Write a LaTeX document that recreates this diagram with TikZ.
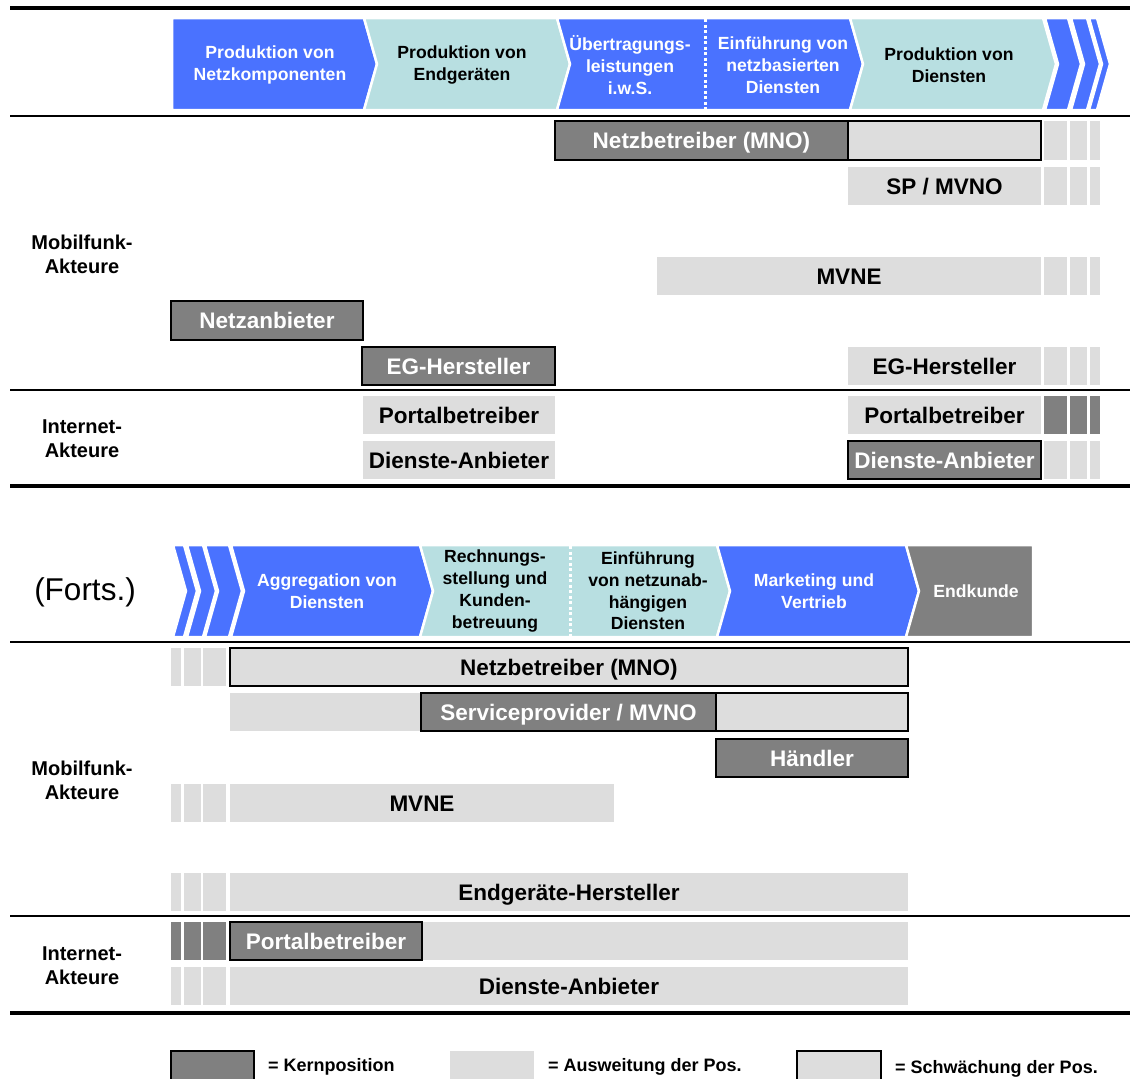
\documentclass[tikz,border=0pt]{standalone}
\usepackage{fontspec}
\setmainfont{Liberation Sans}
\definecolor{stageblue}{RGB}{74,114,255}
\definecolor{stageteal}{RGB}{184,223,225}
\definecolor{kern}{RGB}{128,128,128}
\definecolor{ausw}{RGB}{221,221,221}

% box given by its corners: style, x1, y1, x2, y2, name, text
\newcommand\cellbox[7]{%
  \node[#1, minimum width={(#4)-(#2)}, minimum height={(#5)-(#3)}] (#6)
    at ({((#2)+(#4))/2},{((#3)+(#5))/2}) {#7};}
% chevron with notched left side: fill, left x, right x, top y, bottom y
\newcommand\chevron[5]{%
  \filldraw[fill=#1, draw=white, line width=2.5, line join=miter]
    (#2,#4) -- (#3,#4) -- ({#3+13},{(#4+#5)/2}) -- (#3,#5) -- (#2,#5)
    -- ({#2+13},{(#4+#5)/2}) -- cycle;}
% three narrow blocks at the right edge of the upper table
\newcommand\barsR[3]{%
  \fill[#1] (1044,#2) rectangle (1067,#3);
  \fill[#1] (1070,#2) rectangle (1087,#3);
  \fill[#1] (1090,#2) rectangle (1100,#3);}
% three narrow blocks at the left edge of the lower table
\newcommand\barsL[3]{%
  \fill[#1] (171,#2) rectangle (181,#3);
  \fill[#1] (184,#2) rectangle (201,#3);
  \fill[#1] (203,#2) rectangle (226,#3);}

\begin{document}
\begin{tikzpicture}[x=1pt,y=-1pt,
  cell/.style={inner sep=0pt, outer sep=0pt, text height=16.2pt, text depth=0pt,
    font=\bfseries\fontsize{22.5}{26}\selectfont},
  core/.style={cell, fill=kern, draw=black, line width=1.8, text=white},
  ext/.style={cell, fill=ausw, text=black},
  weak/.style={cell, fill=ausw, draw=black, line width=1.8, text=black},
  htext/.style={align=center, inner sep=0pt, font=\bfseries\fontsize{17.6}{21.8}\selectfont},
  rowlabel/.style={align=center, inner sep=0pt, font=\bfseries\fontsize{20}{24}\selectfont},
  legtext/.style={anchor=west, inner sep=0pt, font=\bfseries\fontsize{18}{20}\selectfont},
  rule/.style={black, line cap=butt}]
\useasboundingbox (0,0) rectangle (1130,1079);
\clip (0,0) rectangle (1130,1079);

% ---------------- upper table: value chain header ----------------
\draw[rule, line width=3.5] (10,8) -- (1130,8);
\filldraw[fill=stageblue, draw=white, line width=2.5, line join=miter]
  (172,18) -- (364,18) -- (377,64) -- (364,110) -- (172,110) -- cycle;
\chevron{stageteal}{364}{557}{18}{110}
\chevron{stageblue}{557}{850}{18}{110}
\chevron{stageteal}{850}{1043}{18}{110}
\chevron{stageblue}{1045}{1068}{18}{110}
\chevron{stageblue}{1071}{1087}{18}{110}
\chevron{stageblue}{1089}{1097}{18}{110}
\draw[white, line width=3, dash pattern=on 3pt off 2.5pt] (705,19) -- (705,109);

\node[htext, text=white] (u1) at (270,65) {Produktion von\\Netzkomponenten};
\node[htext] (u2) at (462,65) {Produktion von\\Endgeräten};
\node[htext, text=white] (u3) at (630,65) {Übertragungs-\\leistungen\\i.w.S.};
\node[htext, text=white] (u4) at (783,65) {Einführung von\\netzbasierten\\Diensten};
\node[htext] (u5) at (949,65) {Produktion von\\Diensten};

\draw[rule, line width=2.5] (10,116) -- (1130,116);

% ---------------- upper table: actors ----------------
\node[rowlabel] (lblA) at (82,254) {Mobilfunk-\\Akteure};
\node[rowlabel] (lblB) at (82,439) {Internet-\\Akteure};

\cellbox{core}{555}{121}{848}{160}{mnoA}{Netzbetreiber (MNO)}
\cellbox{weak}{848}{121}{1041}{160}{mnoB}{}
\barsR{ausw}{121}{160}

\cellbox{ext}{848}{167}{1041}{205}{spA}{SP / MVNO}
\barsR{ausw}{167}{205}

\cellbox{ext}{657}{257}{1041}{295}{mvneA}{MVNE}
\barsR{ausw}{257}{295}

\cellbox{core}{171}{301}{363}{340}{netzA}{Netzanbieter}

\cellbox{core}{362}{347}{555}{385}{egA}{EG-Hersteller}
\cellbox{ext}{848}{347}{1041}{385}{egB}{EG-Hersteller}
\barsR{ausw}{347}{385}

\draw[rule, line width=2] (10,390) -- (1130,390);

\cellbox{ext}{363}{396}{555}{434}{portA}{Portalbetreiber}
\cellbox{ext}{848}{396}{1041}{434}{portB}{Portalbetreiber}
\barsR{kern}{396}{434}

\cellbox{ext}{363}{441}{555}{479}{dienA}{Dienste-Anbieter}
\cellbox{core}{848}{441}{1041}{479}{dienB}{Dienste-Anbieter}
\barsR{ausw}{441}{479}

\draw[rule, line width=3.5] (10,486) -- (1130,486);

% ---------------- lower table: value chain header ----------------
\node[inner sep=0pt, font=\fontsize{31.5}{36}\selectfont] (forts) at (85,592) {(Forts.)};

\chevron{stageblue}{173}{184}{545}{637}
\chevron{stageblue}{187}{203}{545}{637}
\chevron{stageblue}{205}{229}{545}{637}
\chevron{stageblue}{231}{420}{545}{637}
\chevron{stageteal}{420}{717}{545}{637}
\chevron{stageblue}{717}{906}{545}{637}
\filldraw[fill=kern, draw=white, line width=2.5, line join=miter]
  (906,545) -- (1033,545) -- (1033,637) -- (906,637) -- (919,591) -- cycle;
\draw[white, line width=3, dash pattern=on 3pt off 2.5pt] (570,546) -- (570,636);

\node[htext, text=white] (l1) at (327,591) {Aggregation von\\Diensten};
\node[htext] (l2) at (495,591) {Rechnungs-\\stellung und\\Kunden-\\betreuung};
\node[htext] (l3) at (648,591) {Einführung\\von netzunab-\\hängigen\\Diensten};
\node[htext, text=white] (l4) at (814,591) {Marketing und\\Vertrieb};
\node[htext, text=white] (l5) at (976,591) {Endkunde};

\draw[rule, line width=2.5] (10,642) -- (1130,642);

% ---------------- lower table: actors ----------------
\node[rowlabel] (lblC) at (82,780) {Mobilfunk-\\Akteure};
\node[rowlabel] (lblD) at (82,966) {Internet-\\Akteure};

\barsL{ausw}{648}{686}
\cellbox{weak}{230}{648}{908}{686}{mnoC}{Netzbetreiber (MNO)}

\cellbox{ext}{230}{693}{421}{731}{spC}{}
\cellbox{core}{421}{693}{716}{731}{spD}{Serviceprovider / MVNO}
\cellbox{weak}{716}{693}{908}{731}{spE}{}

\cellbox{core}{716}{739}{908}{777}{hdl}{Händler}

\barsL{ausw}{784}{822}
\cellbox{ext}{230}{784}{614}{822}{mvneC}{MVNE}

\barsL{ausw}{873}{911}
\cellbox{ext}{230}{873}{908}{911}{egC}{Endgeräte-Hersteller}

\draw[rule, line width=2] (10,916) -- (1130,916);

\barsL{kern}{922}{960}
\cellbox{ext}{230}{922}{908}{960}{portC}{}
\cellbox{core}{230}{922}{422}{960}{portD}{Portalbetreiber}

\barsL{ausw}{967}{1005}
\cellbox{ext}{230}{967}{908}{1005}{dienC}{Dienste-Anbieter}

\draw[rule, line width=3.5] (10,1013) -- (1130,1013);

% ---------------- legend ----------------
\cellbox{core}{171}{1051}{254}{1090}{legA}{}
\node[legtext] (legAt) at (268,1067) {= Kernposition};
\cellbox{ext}{450}{1051}{534}{1090}{legB}{}
\node[legtext] (legBt) at (548,1067) {= Ausweitung der Pos.};
\cellbox{weak}{797}{1051}{881}{1090}{legC}{}
\node[legtext] (legCt) at (895,1069) {= Schwächung der Pos.};
\end{tikzpicture}
\end{document}
